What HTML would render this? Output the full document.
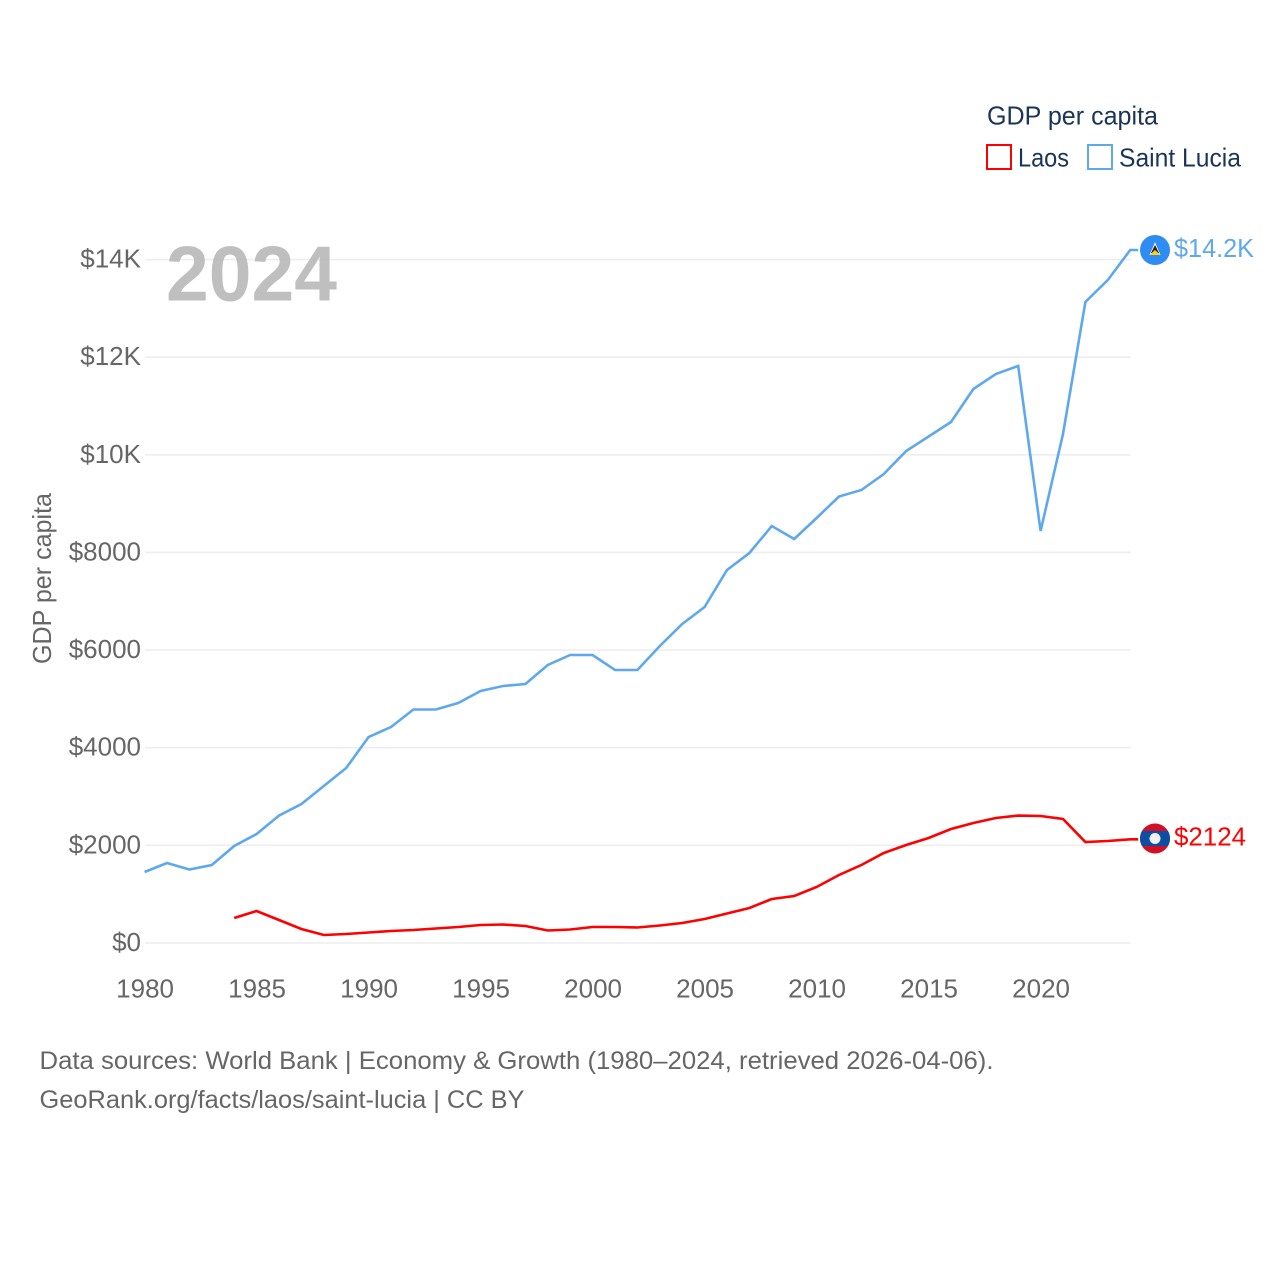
<!DOCTYPE html>
<html lang="en">
<head>
<meta charset="utf-8">
<title>GDP per capita: Laos and Saint Lucia</title>
<style>
html,body{margin:0;padding:0;background:#fff}
svg{display:block}
text{font-family:"Liberation Sans",sans-serif}
.tick{font-size:26px;fill:#666}
.foot{font-size:25px;fill:#666}
.leg{font-size:26px;fill:#1a3557}
</style>
</head>
<body>
<svg id="chart" width="1280" height="1280" viewBox="0 0 1280 1280" xmlns="http://www.w3.org/2000/svg">
  <rect x="0" y="0" width="1280" height="1280" fill="#fff"/>
  <g id="grid"></g>
  <g id="yticks"></g>
  <g id="xticks"></g>
  <text x="166" y="300.5" font-size="78" font-weight="700" fill="#b4b4b4" fill-opacity="0.85" textLength="171" lengthAdjust="spacingAndGlyphs">2024</text>
  <text class="tick" transform="translate(51,664) rotate(-90)" textLength="171" lengthAdjust="spacingAndGlyphs">GDP per capita</text>
  <g id="series"></g>

  <g>
    <circle id="lucia-disc" cx="1155" cy="249.5" r="15" fill="#2f8cf3"/>
    <path id="lucia-tri-white" fill="#f2f2f2"/>
    <path id="lucia-tri-black" fill="#222"/>
    <path id="lucia-tri-gold" fill="#fcd116"/>
  </g>
  <text id="lucia-label" x="1174" y="256.5" font-size="26" fill="#5ea8ee" textLength="80" lengthAdjust="spacingAndGlyphs">$14.2K</text>

  <g>
    <clipPath id="laos-clip"><circle id="laos-clip-c" cx="1155" cy="838.5" r="15"/></clipPath>
    <g clip-path="url(#laos-clip)">
      <rect x="1140" y="823" width="30" height="31" fill="#ce1126"/>
      <rect x="1140" y="831" width="30" height="15" fill="#0b4ea2"/>
    </g>
    <circle cx="1155" cy="838.5" r="5.5" fill="#f2f2f2"/>
  </g>
  <text id="laos-label" x="1174" y="845" font-size="26" fill="#ff0000" textLength="72" lengthAdjust="spacingAndGlyphs">$2124</text>

  <g>
    <text class="leg" x="987" y="124.5" textLength="171" lengthAdjust="spacingAndGlyphs">GDP per capita</text>
    <g>
      <rect x="987" y="145" width="24" height="24" fill="#fff" stroke="#ff0000" stroke-width="2"/>
      <text class="leg" x="1018" y="166.5" textLength="51" lengthAdjust="spacingAndGlyphs">Laos</text>
    </g>
    <g>
      <rect x="1088" y="145" width="24" height="24" fill="#fff" stroke="#5ea8ee" stroke-width="2"/>
      <text class="leg" x="1119" y="166.5" textLength="122" lengthAdjust="spacingAndGlyphs">Saint Lucia</text>
    </g>
  </g>

  <text class="foot" x="39.5" y="1069" textLength="954" lengthAdjust="spacingAndGlyphs">Data sources: World Bank | Economy &amp; Growth (1980–2024, retrieved 2026-04-06).</text>
  <text class="foot" x="39.5" y="1108" textLength="485" lengthAdjust="spacingAndGlyphs">GeoRank.org/facts/laos/saint-lucia | CC BY</text>
</svg>
<script>
const years = [1980,1981,1982,1983,1984,1985,1986,1987,1988,1989,1990,1991,1992,1993,1994,1995,1996,1997,1998,1999,2000,2001,2002,2003,2004,2005,2006,2007,2008,2009,2010,2011,2012,2013,2014,2015,2016,2017,2018,2019,2020,2021,2022,2023,2024];
const saintLucia = [1454,1639,1505,1598,1987,2233,2610,2847,3216,3585,4220,4424,4783,4783,4916,5162,5264,5305,5694,5899,5899,5592,5592,6084,6534,6882,7640,7989,8541,8275,8705,9146,9279,9607,10078,10375,10672,11348,11655,11819,8439,10426,13130,13580,14195];
const laos = [null,null,null,null,512,655,471,287,164,184,215,246,266,297,328,369,379,348,256,277,328,328,318,358,410,492,604,717,901,963,1147,1393,1598,1843,2007,2151,2335,2458,2560,2610,2601,2540,2069,2090,2124];
const yTickValues = [0,2000,4000,6000,8000,10000,12000,14000];
const yTickLabels = ['$0','$2000','$4000','$6000','$8000','$10K','$12K','$14K'];
const xTickValues = [1980,1985,1990,1995,2000,2005,2010,2015,2020];

const NS = 'http://www.w3.org/2000/svg';
const xScale = function (year) { return 144.6 + (year - 1980) * 22.4; };
const yScale = function (value) { return 943 - value * 0.04882; };

const gridLayer = document.getElementById('grid');
const yLayer = document.getElementById('yticks');
const xLayer = document.getElementById('xticks');
const seriesLayer = document.getElementById('series');

yTickValues.forEach(function (value, i) {
  const line = document.createElementNS(NS, 'line');
  
  
  line.setAttribute('x1', 145);
  line.setAttribute('x2', 1130.6);
  line.setAttribute('y1', yScale(value));
  line.setAttribute('y2', yScale(value));
  line.setAttribute('stroke', '#eeeeee');
  line.setAttribute('stroke-width', '1.6');
  gridLayer.appendChild(line);

  const label = document.createElementNS(NS, 'text');
  
  
  label.setAttribute('class', 'tick');
  label.setAttribute('x', 141);
  label.setAttribute('y', yScale(value) + 8);
  label.setAttribute('text-anchor', 'end');
  label.textContent = yTickLabels[i];
  yLayer.appendChild(label);
});

xTickValues.forEach(function (year) {
  const label = document.createElementNS(NS, 'text');
  
  
  label.setAttribute('class', 'tick');
  label.setAttribute('x', xScale(year) + 0.5);
  label.setAttribute('y', 997.5);
  label.setAttribute('text-anchor', 'middle');
  label.textContent = year;
  xLayer.appendChild(label);
});

function linePath(values) {
  let d = '';
  let lastX = 0;
  let lastY = 0;
  values.forEach(function (value, i) {
    if (value === null) { return; }
    lastX = xScale(years[i]);
    lastY = yScale(value);
    d += (d === '' ? 'M' : 'L') + lastX.toFixed(1) + ' ' + lastY.toFixed(1);
  });
  return d + 'L' + (lastX + 8) + ' ' + lastY.toFixed(1);
}

const laosLine = document.createElementNS(NS, 'path');


laosLine.setAttribute('d', linePath(laos));
laosLine.setAttribute('fill', 'none');
laosLine.setAttribute('stroke', '#ff0000');
laosLine.setAttribute('stroke-width', '2.6');
seriesLayer.appendChild(laosLine);

const luciaLine = document.createElementNS(NS, 'path');


luciaLine.setAttribute('d', linePath(saintLucia));
luciaLine.setAttribute('fill', 'none');
luciaLine.setAttribute('stroke', '#5ea8ee');
luciaLine.setAttribute('stroke-width', '2.6');
seriesLayer.appendChild(luciaLine);

/* End markers and labels follow the last data value */
const lastLucia = yScale(saintLucia[saintLucia.length - 1]);
const lastLaos = yScale(laos[laos.length - 1]);
const cx = 1155;
document.getElementById('lucia-disc').setAttribute('cy', lastLucia);
document.getElementById('lucia-label').setAttribute('y', lastLucia + 7);
document.getElementById('lucia-tri-white').setAttribute('d', 'M' + cx + ' ' + (lastLucia - 8) + 'L' + (cx + 5.5) + ' ' + (lastLucia + 5) + 'L' + (cx - 5.5) + ' ' + (lastLucia + 5) + 'Z');
document.getElementById('lucia-tri-black').setAttribute('d', 'M' + cx + ' ' + (lastLucia - 5) + 'L' + (cx + 4) + ' ' + (lastLucia + 3) + 'L' + (cx - 4) + ' ' + (lastLucia + 3) + 'Z');
document.getElementById('lucia-tri-gold').setAttribute('d', 'M' + cx + ' ' + (lastLucia) + 'L' + (cx + 5.5) + ' ' + (lastLucia + 5) + 'L' + (cx - 5.5) + ' ' + (lastLucia + 5) + 'Z');
document.getElementById('laos-label').setAttribute('y', lastLaos + 6);
</script>
</body>
</html>
